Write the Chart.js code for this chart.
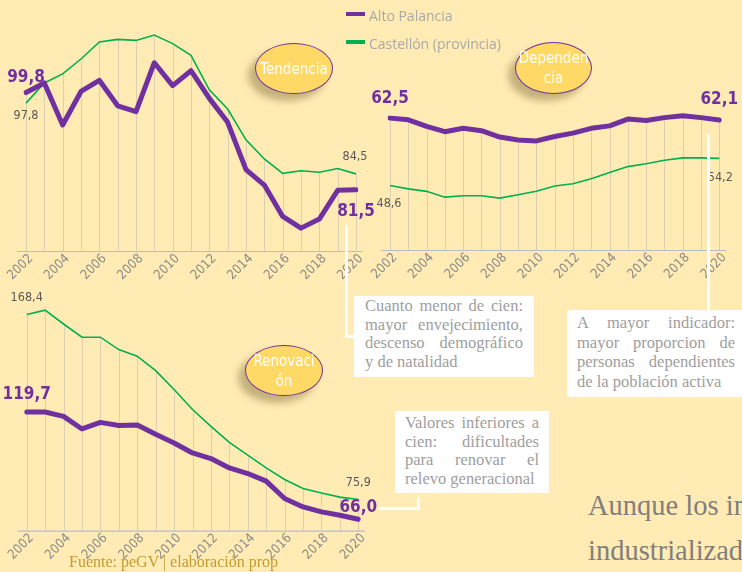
<!DOCTYPE html>
<html><head><meta charset="utf-8">
<script src="https://cdn.jsdelivr.net/npm/chart.js@4/dist/chart.umd.min.js"></script>
<style>
body{margin:0;background:#FFEBB3;width:742px;height:572px;overflow:hidden;position:relative;font-family:'Liberation Serif',serif;}
canvas{position:absolute;}
.ell{position:absolute;border-radius:50%;background:#FFD966;border:1.5px solid #7030A0;box-sizing:border-box;color:#fff;font-family:'Liberation Sans Narrow','DejaVu Sans Condensed',sans-serif;font-size:15px;text-align:center;box-shadow:-7px 7px 7px rgba(90,70,20,0.35);display:flex;align-items:center;justify-content:center;line-height:20px;}
.box{position:absolute;background:#fff;color:#9e9e9e;font-family:'Liberation Serif',serif;font-size:16.5px;text-align:justify;box-sizing:border-box;}
.wl{position:absolute;background:#fff;}
.leg{position:absolute;font-family:'Open Sans',sans-serif;font-size:14px;color:#a8a8a8;}
.legl{position:absolute;height:4px;}
</style></head><body>
<canvas id="c1" width="380" height="290" style="left:0;top:0"></canvas>
<canvas id="c2" width="372" height="290" style="left:370px;top:0"></canvas>
<canvas id="c3" width="380" height="282" style="left:0;top:290px"></canvas>

<div class="legl" style="left:346px;top:12px;width:19px;background:#7030A0"></div>
<div class="leg" style="left:369px;top:6px">Alto Palancia</div>
<div class="legl" style="left:346px;top:40px;width:19px;background:#00B050"></div>
<div class="leg" style="left:369px;top:34px">Castellón (provincia)</div>

<div class="ell" style="left:255px;top:43px;width:78px;height:51px">Tendencia</div>
<div class="ell" style="left:515px;top:42px;width:77px;height:52px">Dependen<br>cia</div>
<div class="ell" style="left:245px;top:345px;width:78px;height:51px">Renovaci<br>ón</div>

<div class="wl" style="left:345px;top:225px;width:3px;height:113px"></div>
<div class="wl" style="left:345px;top:335px;width:10px;height:3px"></div>
<div class="wl" style="left:707px;top:134px;width:3px;height:177px"></div>
<div class="wl" style="left:379px;top:507px;width:41px;height:3px"></div>
<div class="wl" style="left:417px;top:497px;width:3px;height:13px"></div>

<div class="box" style="left:354px;top:296px;width:180px;height:81px;padding:1px 11px 0 11px;line-height:18.5px">Cuanto menor de cien: mayor envejecimiento, descenso demográfico y de natalidad</div>
<div class="box" style="left:567px;top:310px;width:182px;height:87px;padding:3px 14px 0 10px;line-height:19.7px">A mayor indicador: mayor proporcion de personas dependientes de la población activa</div>
<div class="box" style="left:395px;top:411px;width:154px;height:82px;padding:3px 10px 0 10px;line-height:18.7px">Valores inferiores a cien: dificultades para renovar el relevo generacional</div>

<div style="position:absolute;left:588px;top:483px;font-size:28.5px;color:#7f7f7f;white-space:nowrap;line-height:45px">Aunque los indicadores<br>industrializados</div>
<div style="position:absolute;left:69px;top:553px;font-size:16px;color:#C49C2E;white-space:nowrap">Fuente: peGV | elaboración prop</div>

<script>
const years = ['2002','2003','2004','2005','2006','2007','2008','2009','2010','2011','2012','2013','2014','2015','2016','2017','2018','2019','2020'];
const yearTickLabels = ['2002','2004','2006','2008','2010','2012','2014','2016','2018','2020'];

const tendenciaAlto = [99.8,101.6,93.7,100.0,102.1,97.3,96.2,105.4,101.1,103.9,98.7,94.2,85.3,82.4,76.5,74.3,76.0,81.4,81.5];
const tendenciaCast = [97.8,101.6,103.3,106.1,109.3,109.8,109.6,110.6,109.0,106.8,100.3,96.7,90.9,87.3,84.6,85.1,84.8,85.5,84.5];

const dependenciaAlto = [62.5,62.15,60.8,59.7,60.4,59.9,58.6,58.0,57.8,58.7,59.4,60.4,60.9,62.3,62.0,62.6,63.0,62.6,62.1];
const dependenciaCast = [48.6,47.9,47.4,46.2,46.5,46.5,46.0,46.7,47.4,48.5,48.95,50.0,51.3,52.5,53.1,53.8,54.3,54.3,54.2];

const renovacionAlto = [119.7,119.7,117.5,111.2,114.5,112.9,113.2,108.5,104.2,99.2,96.4,91.7,88.9,85.1,76.4,72.2,69.7,68.0,66.0];
const renovacionCast = [168.4,170.6,163.7,157.1,157.1,150.9,147.6,140.4,130.9,120.9,112.5,104.5,98.1,91.7,85.9,81.4,79.2,77.1,75.9];

const NARROW = "'Liberation Sans Narrow','DejaVu Sans Condensed',sans-serif";

const dropLines = {
  id:'dropLines',
  beforeDatasetsDraw(chart){
    const {ctx, chartArea, scales:{x,y}} = chart;
    ctx.save();
    ctx.strokeStyle = 'rgba(175,175,175,0.45)';
    ctx.lineWidth = 1;
    const n = chart.data.labels.length;
    for(let i=0;i<n;i++){
      let m = -Infinity;
      chart.data.datasets.forEach(d=>{ if(d.data[i]>m) m=d.data[i]; });
      const px = Math.round(x.getPixelForValue(i))+0.5;
      ctx.beginPath(); ctx.moveTo(px, y.getPixelForValue(m)); ctx.lineTo(px, chartArea.bottom); ctx.stroke();
    }
    ctx.strokeStyle = '#b9bdcc';
    ctx.lineWidth = 1.2;
    ctx.beginPath(); ctx.moveTo(chartArea.left-9, chartArea.bottom+0.5); ctx.lineTo(chartArea.right+7, chartArea.bottom+0.5); ctx.stroke();
    ctx.restore();
  }
};

const valueLabels = {
  id:'valueLabels',
  afterDatasetsDraw(chart, args, opts){
    const ctx = chart.ctx;
    ctx.save();
    ctx.textAlign = 'center'; ctx.textBaseline = 'middle';
    (opts.items||[]).forEach(it=>{
      const el = chart.getDatasetMeta(it.ds).data[it.i];
      const v = chart.data.datasets[it.ds].data[it.i];
      const txt = v.toFixed(1).replace('.', ',');
      ctx.font = (it.big ? 'bold 17px ' : '12.5px ') + NARROW;
      ctx.fillStyle = it.big ? '#7030A0' : '#595959';
      ctx.fillText(txt, el.x + (it.dx||0), el.y + it.dy);
    });
    ctx.restore();
  }
};

function makeChart(id, alto, cast, yMin, yMax, pad, items){
  return new Chart(document.getElementById(id), {
    type:'line',
    data:{labels:years, datasets:[
      {data:alto, borderColor:'#7030A0', borderWidth:5, pointRadius:0, borderCapStyle:'round', borderJoinStyle:'round', tension:0},
      {data:cast, borderColor:'#00B050', borderWidth:1.6, pointRadius:0, tension:0}
    ]},
    options:{
      responsive:false, animation:false, events:[],
      layout:{padding:pad},
      plugins:{legend:{display:false}, tooltip:{enabled:false}, valueLabels:{items}},
      scales:{
        x:{grid:{display:false, drawTicks:false}, border:{display:false},
           ticks:{autoSkip:false, maxRotation:45, minRotation:45, padding:0, labelOffset:5, color:'#8a8a8a',
                  font:{family:NARROW, size:13},
                  callback:(v,i)=> yearTickLabels.includes(years[i]) ? years[i] : ''},
           afterFit(s){ s.paddingLeft=0; s.paddingRight=0; s.height=30; }},
        y:{display:false, min:yMin, max:yMax}
      }
    },
    plugins:[dropLines, valueLabels]
  });
}

makeChart('c1', tendenciaAlto, tendenciaCast, 70, 114, {left:26, right:24, top:17, bottom:9}, [
  {ds:0,i:0,dy:-15,big:true},{ds:1,i:0,dy:13},{ds:1,i:18,dx:-1,dy:-17},{ds:0,i:18,dy:22,big:true}
]);
makeChart('c2', dependenciaAlto, dependenciaCast, 35.3, 68.3, {left:20, right:22.7, top:90, bottom:10}, [
  {ds:0,i:0,dy:-20,big:true},{ds:1,i:0,dx:-1,dy:18},{ds:0,i:18,dy:-20,big:true},{ds:1,i:18,dx:1,dy:19}
]);
makeChart('c3', renovacionAlto, renovacionCast, 60.3, 175.7, {left:26.7, right:21.7, top:10, bottom:11.3}, [
  {ds:1,i:0,dy:-17},{ds:0,i:0,dy:-17,big:true},{ds:1,i:18,dy:-17},{ds:0,i:18,dy:-12,big:true}
]);
</script>
</body></html>
